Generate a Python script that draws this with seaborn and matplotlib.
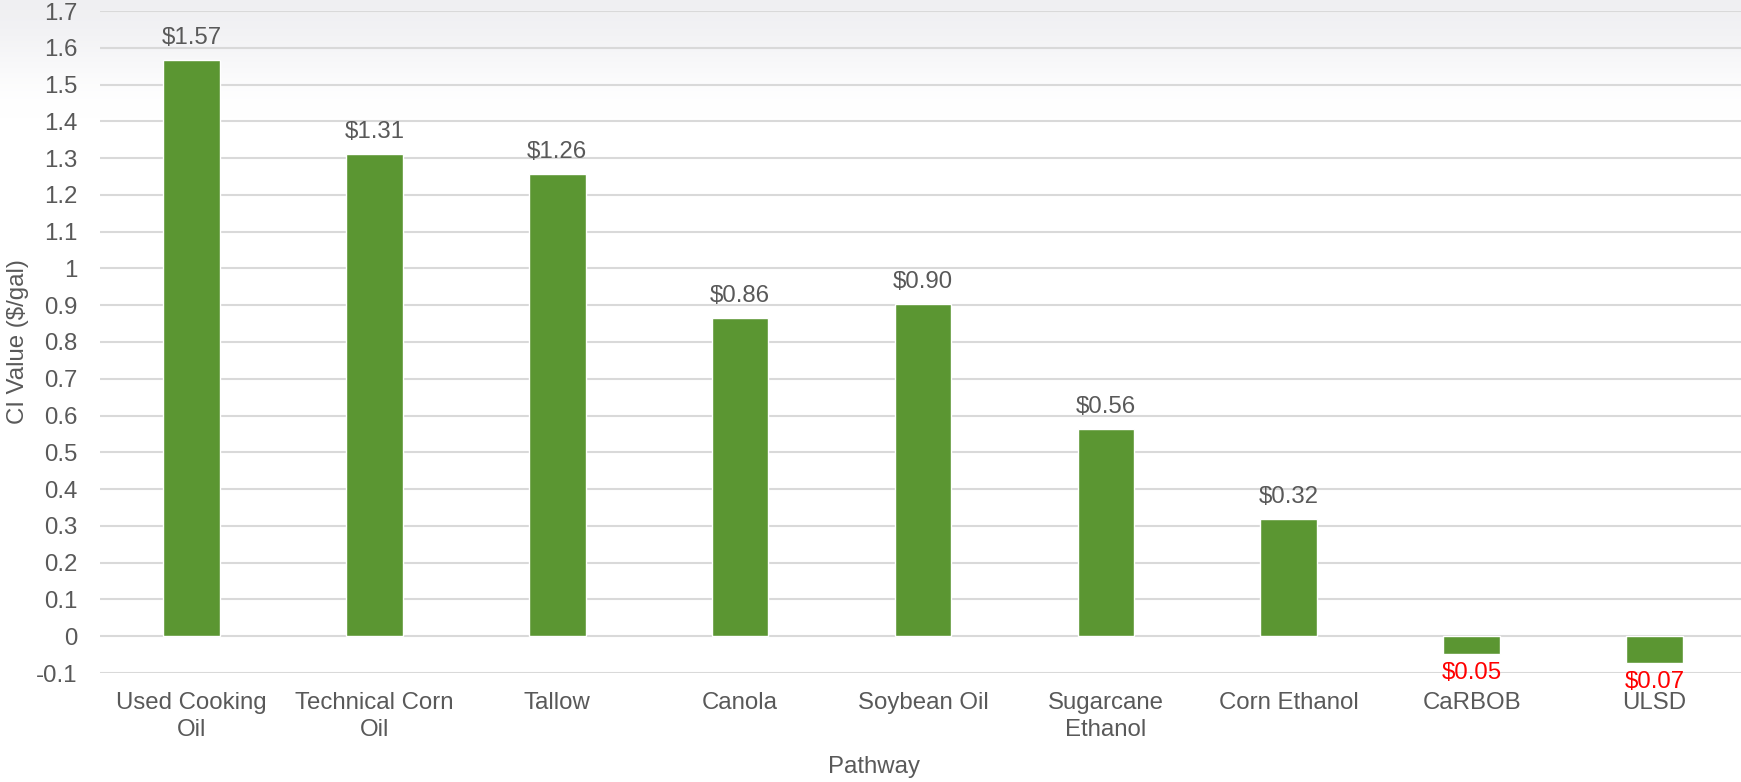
import numpy as np
import pandas as pd
import matplotlib
matplotlib.use("Agg")
import matplotlib.pyplot as plt
import seaborn as sns

categories = ["Used Cooking\nOil", "Technical Corn\nOil", "Tallow", "Canola", "Soybean Oil",
              "Sugarcane\nEthanol", "Corn Ethanol", "CaRBOB", "ULSD"]
ci_values = [1.566, 1.311, 1.257, 0.864, 0.902, 0.563, 0.319, -0.048, -0.072]
y_ticks = [-0.1, 0, 0.1, 0.2, 0.3, 0.4, 0.5, 0.6, 0.7, 0.8, 0.9, 1, 1.1, 1.2, 1.3, 1.4, 1.5, 1.6, 1.7]
y_tick_labels = ["-0.1", "0", "0.1", "0.2", "0.3", "0.4", "0.5", "0.6", "0.7", "0.8", "0.9",
                 "1", "1.1", "1.2", "1.3", "1.4", "1.5", "1.6", "1.7"]

sns.set_theme(style="white")
plt.rcParams['font.family'] = ['Liberation Sans', 'DejaVu Sans']

TXT = "#595959"
GREEN = "#5B9632"
GRID = "#D9D9D9"
FS = 17.3

W, H = 1741, 782
fig = plt.figure(figsize=(W / 100, H / 100), dpi=100)

# background gradient (smooth fade from light grey at top to white)
bg = fig.add_axes([0, 0, 1, 1], zorder=-10)
rows = np.linspace(0, 1, 800)
t = np.clip(rows / 0.15, 0, 1)
t = t * t * (3 - 2 * t)
top = np.array([0.940, 0.940, 0.950])
grad = np.zeros((800, 2, 3))
for i, tt in enumerate(t):
    grad[i, :, :] = top * (1 - tt) + np.array([1.0, 1.0, 1.0]) * tt
bg.imshow(grad, aspect='auto', extent=[0, 1, 0, 1], origin='upper', interpolation='bilinear')
bg.set_axis_off()

left = 100 / W
right_px = 1746
bottom_px = 673
top_px = 11
ax = fig.add_axes([left, 1 - bottom_px / H, (right_px - 100) / W, (bottom_px - top_px) / H])
ax.set_facecolor('none')

df = pd.DataFrame({"Pathway": categories, "CI": ci_values})
sns.barplot(data=df, x="Pathway", y="CI", color=GREEN, saturation=1, width=0.31, ax=ax, zorder=3)

ax.set_xlim(-0.5, len(categories) - 0.5)
ax.set_ylim(-0.1, 1.7)
ax.set_yticks(y_ticks)
ax.set_yticklabels(y_tick_labels)
ax.yaxis.grid(True, color=GRID, linewidth=1.5, zorder=0)
ax.set_axisbelow(True)
for s in ax.spines.values():
    s.set_visible(False)
ax.tick_params(axis='y', length=0, pad=16, labelsize=FS, labelcolor=TXT)
ax.tick_params(axis='x', length=0, pad=14, labelsize=FS, labelcolor=TXT)
for lab in ax.get_xticklabels():
    lab.set_linespacing(1.25)

ax.set_ylabel("CI Value ($/gal)", fontsize=FS, color=TXT)
ax.yaxis.set_label_coords(-0.043, 0.5)
ax.set_xlabel("Pathway", fontsize=FS, color=TXT)
ax.xaxis.set_label_coords(0.47, -0.126)

for i, v in enumerate(ci_values):
    lbl = f"${abs(v):.2f}"
    if v >= 0:
        ax.annotate(lbl, (i, v), xytext=(0, 8), textcoords='offset points',
                    ha='center', va='bottom', fontsize=FS, color=TXT)
    else:
        ax.annotate(lbl, (i, v), xytext=(0, -6), textcoords='offset points',
                    ha='center', va='top', fontsize=FS, color='#FF0000')

fig.savefig("out.png", dpi=100)
